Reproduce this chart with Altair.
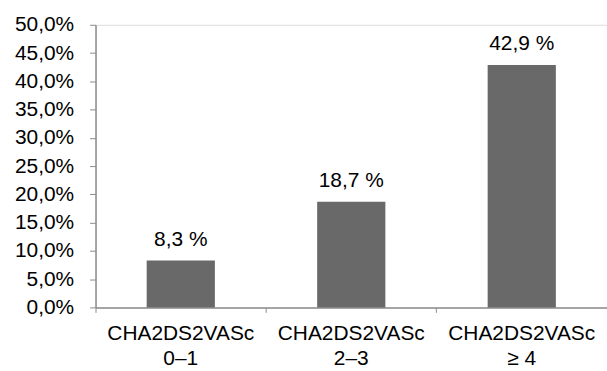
import altair as alt
import pandas as pd

# Share of patients per CHA2DS2VASc score group (percent)
groups = ["CHA2DS2VASc\n0–1", "CHA2DS2VASc\n2–3", "CHA2DS2VASc\n≥ 4"]
values = [8.3, 18.7, 42.9]
value_labels = ["8,3 %", "18,7 %", "42,9 %"]
y_ticks = [0, 5, 10, 15, 20, 25, 30, 35, 40, 45, 50]

df = pd.DataFrame({"group": groups, "value": values, "label": value_labels})

FONT = "Liberation Sans"
AXIS_GRAY = "#8c8c8c"
FONT_SIZE = 21

x = alt.X(
    "group:N",
    sort=groups,
    scale=alt.Scale(paddingInner=0, paddingOuter=0),
    axis=alt.Axis(
        title=None,
        labelAngle=0,
        labelExpr="split(datum.label, '\\n')",
        labelFont=FONT,
        labelFontSize=FONT_SIZE,
        labelColor="#000000",
        labelLineHeight=25,
        labelPadding=10,
        labelBaseline="top",
        labelOverlap=False,
        bandPosition=0,
        tickSize=5,
        tickColor=AXIS_GRAY,
        domainColor=AXIS_GRAY,
        domainWidth=1.5,
        grid=False,
    ),
)

y = alt.Y(
    "value:Q",
    scale=alt.Scale(domain=[0, 50], nice=False),
    axis=alt.Axis(
        title=None,
        values=y_ticks,
        labelExpr="replace(format(datum.value, '.1f'), '.', ',') + '%'",
        labelFont=FONT,
        labelFontSize=FONT_SIZE,
        labelColor="#000000",
        labelPadding=16,
        labelOverlap=False,
        labelFlush=False,
        tickSize=6,
        tickColor=AXIS_GRAY,
        domainColor=AXIS_GRAY,
        domainWidth=1.5,
        grid=False,
    ),
)

base = alt.Chart(df).encode(x=x, y=y)

bars = base.mark_bar(color="#696969", width=alt.RelativeBandSize(0.4))

labels = base.mark_text(
    font=FONT, fontSize=FONT_SIZE, color="#000000", baseline="bottom", dy=-11
).encode(text="label:N")

chart = (
    alt.layer(bars, labels)
    .properties(
        width=514,
        height=284,
        autosize=alt.AutoSizeParams(type="none"),
        padding={"left": 96, "top": 24, "right": 0, "bottom": 63},
    )
    .configure_view(stroke=None, strokeWidth=0)
    .configure(background="white")
)

chart.save("out.html", embed_options={"renderer": "svg", "actions": False})
